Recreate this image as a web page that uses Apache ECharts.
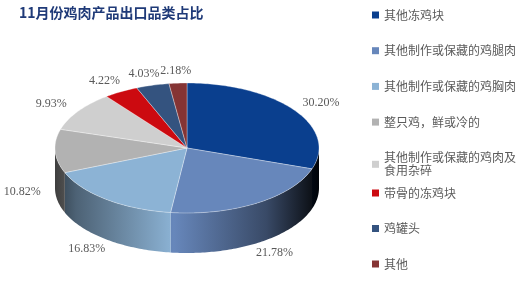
<!DOCTYPE html>
<html><head><meta charset="utf-8">
<script src="https://cdn.jsdelivr.net/npm/echarts@6/dist/echarts.min.js"></script>
<style>html,body{margin:0;padding:0;background:#fff}#c{width:522px;height:296px}</style>
</head><body><div id="c"></div>
<script>
const titleText = '11月份鸡肉产品出口品类占比';
const categories = ['其他冻鸡块','其他制作或保藏的鸡腿肉','其他制作或保藏的鸡胸肉','整只鸡，鲜或冷的','其他制作或保藏的鸡肉及食用杂碎','带骨的冻鸡块','鸡罐头','其他'];
const shares = [30.20, 21.78, 16.83, 10.82, 9.93, 4.22, 4.03, 2.18];
const colors = ['#0a3f8e','#6787bb','#8cb3d5','#b2b2b2','#cfcfcf','#cc0a10','#34537f','#853434'];

// layout of the tilted pie (pixels)
const CX = 187, CY = 148, RX = 132, RY = 65, DEPTH = 40, LRX = 165, LRY = 77;

function shade(hex, f){
  const n = parseInt(hex.slice(1),16);
  const r = Math.round(((n>>16)&255)*f), g = Math.round(((n>>8)&255)*f), b = Math.round((n&255)*f);
  return 'rgb('+r+','+g+','+b+')';
}
function pt(deg, dy){
  const t = deg*Math.PI/180;
  return [CX + RX*Math.cos(t), CY - RY*Math.sin(t) + (dy||0)];
}
function arc(from, to, dy){
  const pts = [];
  const n = Math.max(2, Math.ceil(Math.abs(to-from)/1));
  for (let k=0;k<=n;k++) pts.push(pt(from + (to-from)*k/n, dy));
  return pts;
}
function makeRender(i){
  return function(params, api){
    const total = shares.reduce((a,b)=>a+b,0);
    let before = 0; for (let k=0;k<i;k++) before += shares[k];
    const v = api.value(0);
    const a0 = 90 - before/total*360, a1 = a0 - v/total*360;
    const children = [];
    const lo = Math.max(a1, -180), hi = Math.min(a0, 0);
    if (hi > lo){
      const top = arc(hi, lo, 0), bot = arc(lo, hi, DEPTH);
      children.push({type:'polygon', shape:{points: top.concat(bot)}, style:{
        fill:{type:'linear', x: CX-RX, y:0, x2: CX+RX, y2:0, global:true, colorStops:[
          {offset:0, color: shade(colors[i],0.35)},
          {offset:0.08, color: shade(colors[i],0.55)},
          {offset:0.45, color: shade(colors[i],1)},
          {offset:0.8, color: shade(colors[i],0.55)},
          {offset:1, color: shade(colors[i],0.06)}]},
        stroke: null}});
    }
    children.push({type:'polygon', shape:{points: [[CX,CY]].concat(arc(a0, a1, 0))},
      style:{fill: colors[i], stroke:'rgba(255,255,255,0.55)', lineWidth:0.6}});
    const m = (a0+a1)/2*Math.PI/180;
    const s = Math.sin(m);
    children.push({type:'text', x: CX + LRX*Math.cos(m), y: CY - LRY*s + (s<0?DEPTH:0),
      style:{text: v.toFixed(2)+'%', fill:'#595959', font:'12px "Liberation Serif"', align:'center', verticalAlign:'middle'}});
    return {type:'group', children};
  };
}

const series = categories.map((name,i)=>({
  type:'custom', name, coordinateSystem:'none', data:[[shares[i]]],
  itemStyle:{color: colors[i]}, renderItem: makeRender(i), silent:true
}));

const legendText = {color:'#5a5a5a', fontSize:12, lineHeight:13, fontFamily:'"Noto Sans CJK SC"'};
const chart = echarts.init(document.getElementById('c'));
chart.setOption({
  animation:false,
  title:{text:titleText, left:19, top:6, padding:0, textStyle:{color:'#1f3a78', fontSize:14, fontWeight:'bold', fontFamily:'"Noto Sans CJK SC"'}},
  legend:[
    {data:categories.slice(0,5), orient:'vertical', left:372, top:8.5, padding:0, itemGap:22.7, itemWidth:7, itemHeight:7, icon:'rect', textStyle:legendText,
     selectedMode:false, formatter: n => n.length > 11 ? n.slice(0,11)+'\n'+n.slice(11) : n},
    {data:categories.slice(5), orient:'vertical', left:372, top:186.5, padding:0, itemGap:22.5, itemWidth:7, itemHeight:7, icon:'rect', textStyle:legendText, selectedMode:false}
  ],
  series
});
</script></body></html>
